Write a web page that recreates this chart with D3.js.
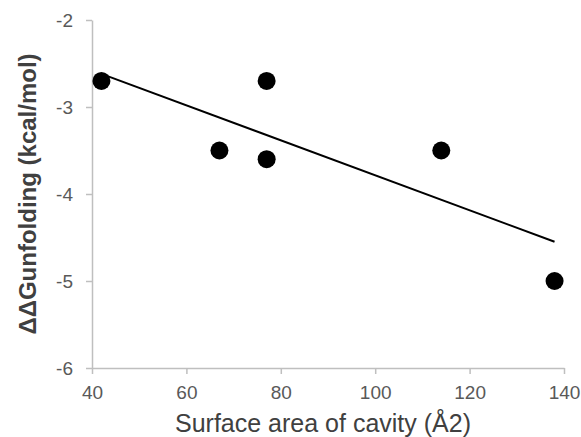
<!DOCTYPE html>
<html>
<head>
<meta charset="utf-8">
<script src="https://cdn.jsdelivr.net/npm/d3@7"></script>
<style>
  body { margin: 0; background: #fff; }
  text { font-family: "Liberation Sans", Arial, sans-serif; }
</style>
</head>
<body>
<div id="chart"></div>
<script>
// Data
const area = [42, 67, 77, 77, 114, 138];
const ddG = [-2.7, -3.5, -2.7, -3.6, -3.5, -5.0];
const xTicks = [40, 60, 80, 100, 120, 140];
const yTicks = [-2, -3, -4, -5, -6];

const margin = { top: 20, right: 17, bottom: 69, left: 92 };
const W = 581, H = 437;
const width = W - margin.left - margin.right;
const height = H - margin.top - margin.bottom;

const svg = d3.select("#chart").append("svg")
    .attr("width", W)
    .attr("height", H);

const g = svg.append("g")
    .attr("transform", `translate(${margin.left},${margin.top})`);

const x = d3.scaleLinear().domain([40, 140]).range([0, width]);
const y = d3.scaleLinear().domain([-6, -2]).range([height, 0]);

const plain = d => String(d);  // keep the hyphen minus, no decimals

// axes
const xAxis = g.append("g")
    .attr("transform", `translate(0,${height})`)
    .call(d3.axisBottom(x).tickValues(xTicks).tickFormat(plain).tickSize(6).tickSizeOuter(0).tickPadding(12));

const yAxis = g.append("g")
    .call(d3.axisLeft(y).tickValues(yTicks).tickFormat(plain).tickSize(6).tickSizeOuter(0).tickPadding(13));

[xAxis, yAxis].forEach(a => {
    a.selectAll("path, line").attr("stroke", "#bfbfbf").attr("stroke-width", 1.5);
    a.selectAll("text")
        .attr("fill", "#595959")
        .style("font-size", "19px")
        .style("font-family", "'Liberation Sans', Arial, sans-serif");
});

// linear trendline (least squares fit of the points)
const data = area.map((a, i) => ({ a: a, v: ddG[i] }));
const mx = d3.mean(area), my = d3.mean(ddG);
const slope = d3.sum(data, d => (d.a - mx) * (d.v - my)) / d3.sum(data, d => (d.a - mx) ** 2);
const fit = a => my + slope * (a - mx);
const ext = d3.extent(area);

g.append("line")
    .attr("x1", x(ext[0])).attr("y1", y(fit(ext[0])))
    .attr("x2", x(ext[1])).attr("y2", y(fit(ext[1])))
    .attr("stroke", "#000")
    .attr("stroke-width", 2);

// points
g.selectAll("circle")
    .data(data)
    .join("circle")
    .attr("cx", d => x(d.a))
    .attr("cy", d => y(d.v))
    .attr("r", 9)
    .attr("fill", "#000");

// axis titles
svg.append("text")
    .attr("x", margin.left + width / 2 - 5)
    .attr("y", 432)
    .attr("text-anchor", "middle")
    .attr("fill", "#404040")
    .style("font-size", "25px")
    .text("Surface area of cavity (Å2)");

svg.append("text")
    .attr("transform", `translate(36,${margin.top + height / 2}) rotate(-90)`)
    .attr("text-anchor", "middle")
    .attr("fill", "#404040")
    .style("font-size", "24px")
    .style("font-weight", "bold")
    .text("ΔΔGunfolding (kcal/mol)");
</script>
</body>
</html>
